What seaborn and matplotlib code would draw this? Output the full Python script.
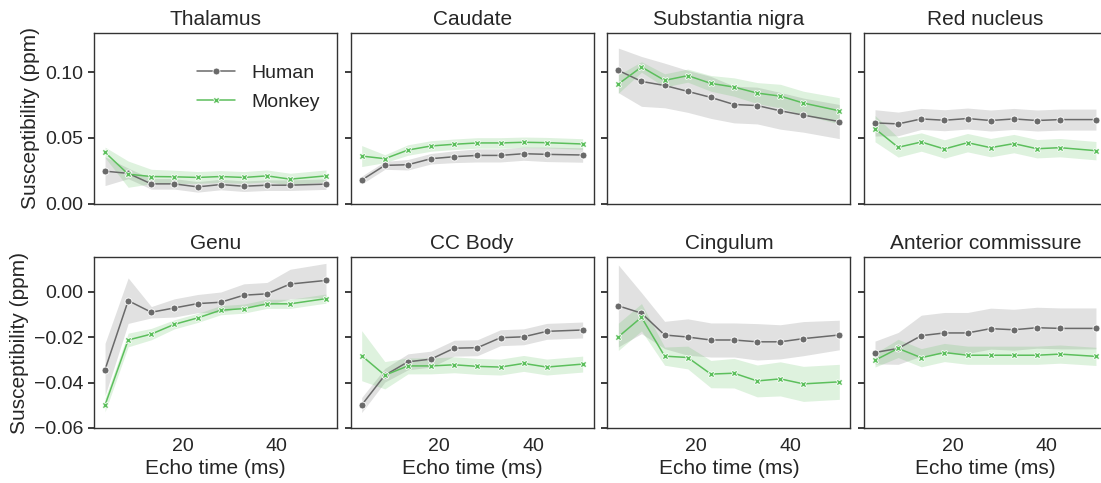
import numpy as np
import pandas as pd
import matplotlib
matplotlib.use("Agg")
import matplotlib.pyplot as plt
import seaborn as sns

# ---------------- data ----------------
echo_times = [3.6, 8.5, 13.4, 18.3, 23.2, 28.1, 33.0, 37.9, 42.8, 50.4]
species = ["Human", "Monkey"]
regions = ["Thalamus", "Caudate", "Substantia nigra", "Red nucleus",
           "Genu", "CC Body", "Cingulum", "Anterior commissure"]

thalamus_human = [0.0247, 0.0230, 0.0150, 0.0150, 0.0127, 0.0145, 0.0132, 0.0140, 0.0140, 0.0148]
thalamus_human_err = [0.011, 0.004, 0.004, 0.004, 0.004, 0.004, 0.004, 0.004, 0.004, 0.004]
thalamus_monkey = [0.0390, 0.0224, 0.0206, 0.0204, 0.0199, 0.0206, 0.0199, 0.0211, 0.0186, 0.0211]
thalamus_monkey_err = [0.004, 0.010, 0.0055, 0.005, 0.0045, 0.0045, 0.0045, 0.0045, 0.0045, 0.0045]

caudate_human = [0.0179, 0.0291, 0.0296, 0.0342, 0.0357, 0.0367, 0.0367, 0.0380, 0.0375, 0.0370]
caudate_human_err = [0.003, 0.003, 0.004, 0.004, 0.0045, 0.005, 0.005, 0.005, 0.0055, 0.0055]
caudate_monkey = [0.0362, 0.0342, 0.0408, 0.0439, 0.0452, 0.0462, 0.0462, 0.0467, 0.0464, 0.0454]
caudate_monkey_err = [0.008, 0.003, 0.004, 0.004, 0.004, 0.004, 0.004, 0.004, 0.004, 0.004]

sn_human = [0.1015, 0.0931, 0.0900, 0.0855, 0.0809, 0.0755, 0.0747, 0.0707, 0.0674, 0.0625]
sn_human_err = [0.017, 0.019, 0.017, 0.016, 0.016, 0.014, 0.014, 0.014, 0.013, 0.013]
sn_monkey = [0.0911, 0.1041, 0.0939, 0.0975, 0.0916, 0.0888, 0.0842, 0.0819, 0.0766, 0.0707]
sn_monkey_err = [0.007, 0.004, 0.005, 0.005, 0.006, 0.007, 0.008, 0.009, 0.009, 0.010]

rn_human = [0.0615, 0.0607, 0.0645, 0.0635, 0.0648, 0.0633, 0.0645, 0.0633, 0.0640, 0.0640]
rn_human_err = [0.010, 0.009, 0.008, 0.008, 0.008, 0.008, 0.008, 0.008, 0.008, 0.008]
rn_monkey = [0.0571, 0.0429, 0.0469, 0.0416, 0.0464, 0.0426, 0.0457, 0.0418, 0.0426, 0.0403]
rn_monkey_err = [0.010, 0.0075, 0.007, 0.007, 0.007, 0.007, 0.007, 0.007, 0.007, 0.007]

genu_human = [-0.0343, -0.0040, -0.0091, -0.0072, -0.0053, -0.0047, -0.0016, -0.0010, 0.0033, 0.0049]
genu_human_err = [0.0115, 0.010, 0.0025, 0.004, 0.004, 0.0045, 0.005, 0.005, 0.0065, 0.0075]
genu_monkey = [-0.0499, -0.0213, -0.0187, -0.0144, -0.0116, -0.0082, -0.0075, -0.0054, -0.0054, -0.0031]
genu_monkey_err = [0.003, 0.003, 0.0025, 0.002, 0.002, 0.002, 0.002, 0.002, 0.002, 0.002]

ccbody_human = [-0.0499, -0.0368, -0.0309, -0.0297, -0.0249, -0.0247, -0.0203, -0.0199, -0.0175, -0.0169]
ccbody_human_err = [0.0033, 0.003, 0.0035, 0.0035, 0.0035, 0.0035, 0.0035, 0.0035, 0.0035, 0.0035]
ccbody_monkey = [-0.0282, -0.0368, -0.0327, -0.0327, -0.0322, -0.0329, -0.0332, -0.0316, -0.0332, -0.0319]
ccbody_monkey_err = [0.011, 0.006, 0.0035, 0.0035, 0.0035, 0.0035, 0.0035, 0.0035, 0.0035, 0.0035]

cing_human = [-0.0063, -0.0095, -0.0191, -0.0200, -0.0213, -0.0213, -0.0221, -0.0221, -0.0207, -0.0191]
cing_human_err = [0.018, 0.009, 0.006, 0.008, 0.0075, 0.0075, 0.008, 0.0075, 0.0075, 0.0065]
cing_monkey = [-0.0199, -0.0113, -0.0284, -0.0290, -0.0363, -0.0359, -0.0393, -0.0384, -0.0406, -0.0397]
cing_monkey_err = [0.006, 0.006, 0.004, 0.005, 0.006, 0.0065, 0.007, 0.0075, 0.0077, 0.0077]

ac_human = [-0.0268, -0.0250, -0.0194, -0.0182, -0.0182, -0.0163, -0.0168, -0.0159, -0.0162, -0.0162]
ac_human_err = [0.005, 0.007, 0.009, 0.009, 0.009, 0.009, 0.009, 0.009, 0.009, 0.009]
ac_monkey = [-0.0302, -0.0250, -0.0291, -0.0268, -0.0280, -0.0280, -0.0280, -0.0280, -0.0275, -0.0285]
ac_monkey_err = [0.003, 0.004, 0.004, 0.004, 0.004, 0.004, 0.004, 0.004, 0.004, 0.004]

series = {
    "Thalamus": (thalamus_human, thalamus_human_err, thalamus_monkey, thalamus_monkey_err),
    "Caudate": (caudate_human, caudate_human_err, caudate_monkey, caudate_monkey_err),
    "Substantia nigra": (sn_human, sn_human_err, sn_monkey, sn_monkey_err),
    "Red nucleus": (rn_human, rn_human_err, rn_monkey, rn_monkey_err),
    "Genu": (genu_human, genu_human_err, genu_monkey, genu_monkey_err),
    "CC Body": (ccbody_human, ccbody_human_err, ccbody_monkey, ccbody_monkey_err),
    "Cingulum": (cing_human, cing_human_err, cing_monkey, cing_monkey_err),
    "Anterior commissure": (ac_human, ac_human_err, ac_monkey, ac_monkey_err),
}

yticks_top = [0.00, 0.05, 0.10]
yticks_bottom = [-0.06, -0.04, -0.02, 0.00]
xticks = [20, 40]

# ---------------- style ----------------
sns.set_theme(style="ticks")
plt.rcParams["font.family"] = ["Liberation Sans", "DejaVu Sans"]
plt.rcParams["axes.edgecolor"] = "#333333"
plt.rcParams["axes.linewidth"] = 1.0

palette = {"Human": "#6a6a6a", "Monkey": "#5cbf5c"}
markers = {"Human": "o", "Monkey": "X"}


def fmt_minus(v, pos):
    s = "%.2f" % v
    if s.startswith("-"):
        s = "\u2212" + s[1:]
    return s


fig, axes = plt.subplots(2, 4, figsize=(11.01, 4.83), dpi=100, sharex=True)
fig.subplots_adjust(left=94 / 1101, right=1107 / 1101, top=1 - 33 / 483,
                    bottom=1 - 428 / 483, wspace=0.056, hspace=0.316)

for idx, region in enumerate(regions):
    ax = axes.flat[idx]
    h, he, m, me = series[region]
    df = pd.DataFrame({
        "Echo time (ms)": echo_times * 2,
        "Susceptibility (ppm)": list(h) + list(m),
        "Species": ["Human"] * len(h) + ["Monkey"] * len(m),
    })
    for sp, vals, err in (("Human", h, he), ("Monkey", m, me)):
        vals = np.asarray(vals)
        err = np.asarray(err)
        ax.fill_between(echo_times, vals - err, vals + err,
                        color=palette[sp], alpha=0.2, linewidth=0)
    sns.lineplot(data=df, x="Echo time (ms)", y="Susceptibility (ppm)",
                 hue="Species", style="Species", palette=palette,
                 markers=markers, dashes=False, markersize=5,
                 markeredgecolor="white", markeredgewidth=0.6,
                 linewidth=1.1, ax=ax, legend=(idx == 0))
    ax.set_title(region, fontsize=15, pad=6)
    ax.set_xticks(xticks)
    ax.tick_params(axis="x", length=0, labelsize=14, pad=7)
    ax.tick_params(axis="y", labelsize=14, length=4)
    row, col = divmod(idx, 4)
    if row == 0:
        ax.set_ylim(0.0, 0.13)
        ax.set_yticks(yticks_top)
        ax.set_xlabel("")
    else:
        ax.set_ylim(-0.06, 0.015)
        ax.set_yticks(yticks_bottom)
        ax.set_xlabel("Echo time (ms)", fontsize=15, labelpad=3)
    if col == 0:
        ax.set_ylabel("Susceptibility (ppm)", fontsize=15, labelpad=4)
        ax.yaxis.set_major_formatter(matplotlib.ticker.FuncFormatter(fmt_minus))
    else:
        ax.set_ylabel("")
        ax.tick_params(axis="y", labelleft=False)
    for s in ax.spines.values():
        s.set_visible(True)
    if idx == 0:
        leg = ax.legend(frameon=False, fontsize=14, loc="upper right",
                        bbox_to_anchor=(1.0, 0.92), handlelength=2.0,
                        labelspacing=0.6)
        leg.set_title(None)

for ax in axes[0]:
    ax.tick_params(axis="x", labelbottom=False)

fig.savefig("out.png", dpi=100)
